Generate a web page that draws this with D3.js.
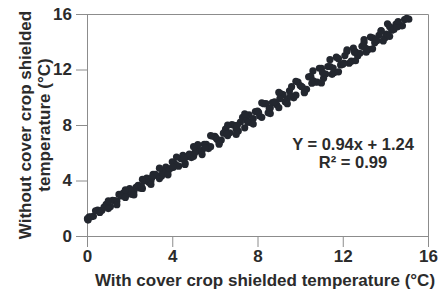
<!DOCTYPE html>
<html lang="en">
<head>
  <meta charset="UTF-8" />
  <title>Shielded temperature</title>
  <style>
    html, body { margin: 0; padding: 0; background: #fff; }
    svg { display: block; font-family: "Liberation Sans", Arial, Helvetica, sans-serif; }
    .axis path, .axis line { stroke: #8c8c8c; }
    .axis text { font-size: 17px; font-weight: bold; fill: #2b2b2b; }
    .title { font-size: 17px; font-weight: bold; fill: #2b2b2b; }
    .fit { font-size: 16.5px; font-weight: bold; fill: #2b2b2b; }
  </style>
  <script src="https://d3js.org/d3.v7.min.js"></script>
</head>
<body>
<svg id="chart" width="439" height="291"></svg>
<script>
  // shielded temperature (°C), with cover crop (x) vs without cover crop (y)
  const withCover = [
    0.02, 0.05,
    0.1, 0.3, 0.5, 0.7, 0.9, 1.1, 1.3, 1.5, 1.7, 1.9, 2.1, 2.3, 2.5, 2.7, 2.9, 3.1, 3.3, 3.5, 3.7, 3.9,
    4.1, 4.3, 4.5, 4.7, 4.9, 5.1, 5.3, 5.5, 5.7, 5.9, 6.1, 6.3, 6.5, 6.7, 6.9, 7.1, 7.3, 7.5, 7.7, 7.9,
    8.1, 8.3, 8.5, 8.7, 8.9, 9.1, 9.3, 9.5, 9.7, 9.9, 10.1, 10.3, 10.5, 10.7, 10.9, 11.1, 11.3, 11.5, 11.7, 11.9,
    12.1, 12.3, 12.5, 12.7, 12.9, 13.1, 13.3, 13.5, 13.7, 13.9, 14.1, 14.3, 14.5, 14.7, 14.9, 15.1,
    0.2, 0.4, 0.6, 0.8, 1.0, 1.2, 1.4, 1.6, 1.8, 2.0, 2.2, 2.4, 2.6, 2.8, 3.0, 3.2, 3.4, 3.6, 3.8, 4.0,
    4.2, 4.4, 4.6, 4.8, 5.0, 5.2, 5.4, 5.6, 5.8, 6.0, 6.2, 6.4, 6.6, 6.8, 7.0, 7.2, 7.4, 7.6, 7.8, 8.0,
    8.2, 8.4, 8.6, 8.8, 9.0, 9.2, 9.4, 9.6, 9.8, 10.0, 10.2, 10.4, 10.6, 10.8, 11.0, 11.2, 11.4, 11.6, 11.8, 12.0,
    12.2, 12.4, 12.6, 12.8, 13.0, 13.2, 13.4, 13.6, 13.8, 14.0, 14.2, 14.4, 14.6, 14.8, 15.0,
    2.05, 2.55, 3.05, 3.55, 4.05, 4.55, 5.05, 5.55, 6.05, 6.55, 7.05, 7.55, 8.05, 8.55, 9.05, 9.55,
    10.05, 10.55, 11.05, 11.55, 12.05, 12.55, 13.05, 13.55, 14.05, 14.55,
    1.0, 1.4, 1.8, 2.2, 2.6, 3.0, 3.4, 3.8, 4.2, 4.6, 5.0, 5.4, 5.8, 6.2, 6.6, 7.0, 7.4, 7.8,
    8.2, 8.6, 9.0, 9.4, 9.8, 10.2, 10.6, 11.0, 11.4, 11.8, 12.2, 12.6, 13.0, 13.4, 13.8, 14.2, 14.6
  ];
  const withoutCover = [
    1.25, 1.15,
    1.38, 1.42, 1.86, 1.85, 2.29, 2.12, 2.56, 3.00, 3.09, 3.03, 3.01, 3.50, 3.44, 3.98, 3.87, 4.45, 4.34, 4.33, 4.97, 4.86,
    5.24, 5.03, 5.82, 5.71, 5.65, 6.33, 6.12, 6.61, 6.30, 7.19, 6.97, 6.91, 7.70, 7.44, 7.98, 7.56, 8.55, 8.34, 8.18, 8.97,
    8.65, 9.54, 8.88, 9.62, 9.46, 10.24, 9.68, 10.47, 9.96, 11.10, 10.73, 10.57, 11.51, 11.10, 12.09, 11.37, 12.21, 11.65, 12.89, 12.33,
    13.01, 12.45, 13.54, 12.98, 13.67, 13.25, 14.34, 13.93, 14.47, 14.06, 15.29, 14.83, 15.27, 15.16, 15.60, 15.63,
    1.38, 1.82, 1.70, 2.09, 1.98, 2.57, 2.51, 2.89, 2.78, 3.42, 3.21, 3.65, 3.43, 4.17, 3.96, 4.45, 4.14, 4.72, 4.66, 5.35,
    5.09, 5.58, 5.26, 5.90, 5.74, 6.58, 6.17, 6.60, 6.44, 7.18, 6.72, 7.41, 7.24, 8.03, 7.67, 8.21, 7.80, 8.73, 8.47, 9.01,
    8.55, 9.54, 9.22, 9.66, 9.25, 10.19, 9.88, 10.76, 10.15, 10.84, 10.38, 11.47, 11.20, 11.09, 12.08, 11.67, 12.21, 11.79, 12.78, 12.37,
    13.31, 12.60, 13.28, 13.17, 13.96, 13.45, 14.29, 14.07, 14.81, 14.30, 15.09, 14.88, 15.26, 15.15, 15.69,
    3.22, 3.59, 4.21, 4.58, 4.95, 5.62, 5.99, 6.36, 7.08, 7.35, 7.97, 8.19, 8.91, 9.18, 9.90, 10.12,
    10.79, 11.01, 11.78, 12.10, 12.47, 13.24, 13.56, 14.18, 14.55, 15.07,
    2.53, 2.26, 3.33, 2.96, 4.08, 3.71, 4.89, 4.41, 5.69, 5.16, 6.44, 5.87, 7.24, 6.62, 7.99, 7.32, 8.80, 8.07,
    9.60, 8.82, 10.35, 9.53, 11.15, 10.33, 11.90, 11.03, 12.71, 11.83, 13.41, 12.63, 14.16, 13.49, 14.76, 14.39, 15.46
  ];
  const tickValues = [0, 4, 8, 12, 16];
  const fitLabel = ['Y = 0.94x + 1.24', 'R² = 0.99'];

  const svg = d3.select('#chart');
  const margin = { top: 14, right: 11, bottom: 55, left: 87 };
  const width = 439 - margin.left - margin.right;
  const height = 291 - margin.top - margin.bottom;

  const x = d3.scaleLinear().domain([0, 16]).range([0, width]);
  const y = d3.scaleLinear().domain([0, 16]).range([height, 0]);

  const g = svg.append('g').attr('transform', `translate(${margin.left},${margin.top})`);

  // frame top and right
  g.append('path')
    .attr('d', `M0,0.5H${width + 0.5}V${height}`)
    .attr('fill', 'none')
    .attr('stroke', '#8c8c8c');

  g.append('g')
    .attr('class', 'axis')
    .attr('transform', `translate(0,${height})`)
    .call(d3.axisBottom(x).tickValues(tickValues).tickSize(11).tickPadding(3).tickSizeOuter(0));

  g.append('g')
    .attr('class', 'axis')
    .call(d3.axisLeft(y).tickValues(tickValues).tickSize(11).tickPadding(4).tickSizeOuter(0));

  const pts = withCover.map((v, i) => [v, withoutCover[i]]);
  g.append('g')
    .selectAll('circle')
    .data(pts)
    .join('circle')
    .attr('cx', d => x(d[0]))
    .attr('cy', d => y(d[1]))
    .attr('r', 3.6)
    .attr('fill', '#23272f');

  // regression text
  g.append('text').attr('class', 'fit').attr('text-anchor', 'middle')
    .attr('x', 266).attr('y', 136).text(fitLabel[0]);
  g.append('text').attr('class', 'fit').attr('text-anchor', 'middle')
    .attr('x', 266).attr('y', 154).text(fitLabel[1]);

  // axis titles
  svg.append('text')
    .attr('class', 'title')
    .attr('text-anchor', 'middle')
    .attr('x', 265)
    .attr('y', 286)
    .text('With cover crop shielded temperature (°C)');

  const yt = svg.append('text')
    .attr('class', 'title')
    .attr('text-anchor', 'middle')
    .attr('transform', `translate(0,${margin.top + height / 2}) rotate(-90)`);
  yt.append('tspan').attr('x', 0).attr('y', 31).text('Without cover crop shielded');
  yt.append('tspan').attr('x', 0).attr('y', 50).text('temperature (°C)');
</script>
</body>
</html>
